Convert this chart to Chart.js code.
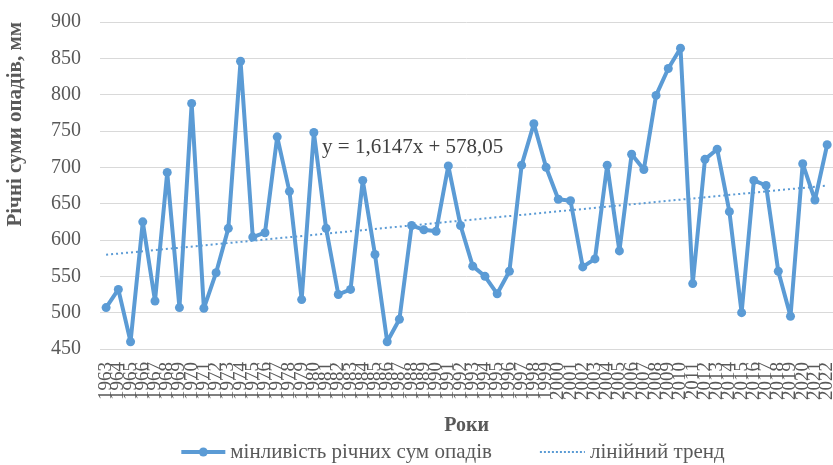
<!DOCTYPE html>
<html>
<head>
<meta charset="utf-8">
<script src="https://cdn.jsdelivr.net/npm/chart.js@4/dist/chart.umd.min.js"></script>
<style>
    html, body { margin: 0; padding: 0; background: #fff; overflow: hidden; }
    #wrap { width: 863px; height: 474px; margin-top: -9px; }
</style>
</head>
<body>
<div id="wrap"><canvas id="opadyChart"></canvas></div>
<script>
// Роки (підписи осі X)
const roky = [
    '1963', '1964', '1965', '1966', '1967', '1968', '1969', '1970', '1971', '1972',
    '1973', '1974', '1975', '1976', '1977', '1978', '1979', '1980', '1981', '1982',
    '1983', '1984', '1985', '1986', '1987', '1988', '1989', '1990', '1991', '1992',
    '1993', '1994', '1995', '1996', '1997', '1998', '1999', '2000', '2001', '2002',
    '2003', '2004', '2005', '2006', '2007', '2008', '2009', '2010', '2011', '2012',
    '2013', '2014', '2015', '2016', '2017', '2018', '2019', '2020', '2021', '2022'
];

// Річні суми опадів, мм
const opady = [
    507, 532, 460, 625, 516, 693, 507, 788, 506, 555,
    616, 846, 604, 610, 742, 667, 518, 748, 616, 525,
    532, 682, 580, 460, 491, 620, 614, 612, 702, 620,
    564, 550, 526, 557, 703, 760, 700, 656, 654, 563,
    574, 703, 585, 718, 697, 799, 836, 864, 540, 711,
    725, 639, 500, 682, 675, 557, 495, 705, 655, 731
];

// Лінійний тренд: значення на початку і в кінці ряду
const trendPochatok = 579.66;
const trendKinec = 674.93;
const trendRivnyannya = 'y = 1,6147x + 578,05';

const yTicks = { min: 450, max: 900, step: 50 };

const trend = roky.map((r, i) => {
    if (i === 0) return trendPochatok;
    if (i === roky.length - 1) return trendKinec;
    return null;
});

const SINIY = '#5B9BD5';
const SIRIY = '#595959';
const SHRYFT = "'Liberation Serif', 'Times New Roman', serif";

// Рівняння тренду на графіку
const rivnyannyaPlugin = {
    id: 'rivnyannya',
    afterDatasetsDraw(chart) {
        const ctx = chart.ctx;
        const x = chart.scales.x.getPixelForValue(18) - 4;
        const y = chart.scales.y.getPixelForValue(728);
        ctx.save();
        ctx.font = '21px ' + SHRYFT;
        ctx.fillStyle = '#404040';
        ctx.textAlign = 'left';
        ctx.textBaseline = 'middle';
        ctx.fillText(trendRivnyannya, x, y);
        ctx.restore();
    }
};

// Легенда внизу
const legendaPlugin = {
    id: 'legenda',
    afterDraw(chart) {
        const ctx = chart.ctx;
        const t1 = chart.data.datasets[0].label;
        const t2 = chart.data.datasets[1].label;
        ctx.save();
        ctx.font = '21px ' + SHRYFT;
        const w1 = ctx.measureText(t1).width;
        const w2 = ctx.measureText(t2).width;
        const total = 44 + 5 + w1 + 48 + 45 + 5 + w2;
        let x = 453 - total / 2;
        const y = chart.height - 13;

        ctx.strokeStyle = SINIY;
        ctx.lineWidth = 4;
        ctx.beginPath();
        ctx.moveTo(x, y);
        ctx.lineTo(x + 44, y);
        ctx.stroke();
        ctx.fillStyle = SINIY;
        ctx.beginPath();
        ctx.arc(x + 22, y, 4.5, 0, Math.PI * 2);
        ctx.fill();
        x += 49;
        ctx.fillStyle = SIRIY;
        ctx.textBaseline = 'middle';
        ctx.fillText(t1, x, y);
        x += w1 + 48;

        ctx.strokeStyle = SINIY;
        ctx.lineWidth = 2;
        ctx.setLineDash([2, 2]);
        ctx.beginPath();
        ctx.moveTo(x, y);
        ctx.lineTo(x + 45, y);
        ctx.stroke();
        ctx.setLineDash([]);
        x += 50;
        ctx.fillStyle = SIRIY;
        ctx.fillText(t2, x, y);
        ctx.restore();
    }
};

new Chart(document.getElementById('opadyChart').getContext('2d'), {
    type: 'line',
    data: {
        labels: roky,
        datasets: [
            {
                label: 'мінливість річних сум опадів',
                data: opady,
                borderColor: SINIY,
                backgroundColor: SINIY,
                borderWidth: 4,
                borderJoinStyle: 'round',
                borderCapStyle: 'round',
                pointRadius: 4.5,
                pointHoverRadius: 4.5,
                pointBorderWidth: 0,
                tension: 0
            },
            {
                label: 'лінійний тренд',
                data: trend,
                borderColor: SINIY,
                borderWidth: 2,
                borderDash: [2, 3],
                pointRadius: 0,
                spanGaps: true,
                tension: 0
            }
        ]
    },
    options: {
        responsive: true,
        maintainAspectRatio: false,
        animation: false,
        layout: {
            padding: { top: 11, right: 0, bottom: 27, left: 0 }
        },
        plugins: {
            legend: { display: false },
            tooltip: { enabled: false }
        },
        scales: {
            x: {
                offset: true,
                grid: { display: false, drawTicks: false },
                border: { color: '#d9d9d9', width: 1 },
                ticks: {
                    autoSkip: false,
                    minRotation: 90,
                    maxRotation: 90,
                    padding: 13,
                    color: SIRIY,
                    font: { family: SHRYFT, size: 19 }
                },
                title: {
                    display: true,
                    text: 'Роки',
                    color: SIRIY,
                    padding: { top: 0, bottom: 0 },
                    font: { family: SHRYFT, size: 20, weight: 'bold' }
                },
                afterFit(scale) {
                    scale.height = 89;
                }
            },
            y: {
                min: yTicks.min,
                max: yTicks.max,
                grid: { color: '#d9d9d9', drawTicks: false },
                border: { display: false },
                ticks: {
                    stepSize: yTicks.step,
                    padding: 19,
                    color: SIRIY,
                    font: { family: SHRYFT, size: 20 }
                },
                title: {
                    display: true,
                    text: 'Річні суми опадів, мм',
                    align: 'end',
                    color: SIRIY,
                    padding: { top: 3, bottom: 3 },
                    font: { family: SHRYFT, size: 21, weight: 'bold' }
                },
                afterFit(scale) {
                    scale.width = 100;
                }
            }
        }
    },
    plugins: [rivnyannyaPlugin, legendaPlugin]
});
</script>
</body>
</html>
